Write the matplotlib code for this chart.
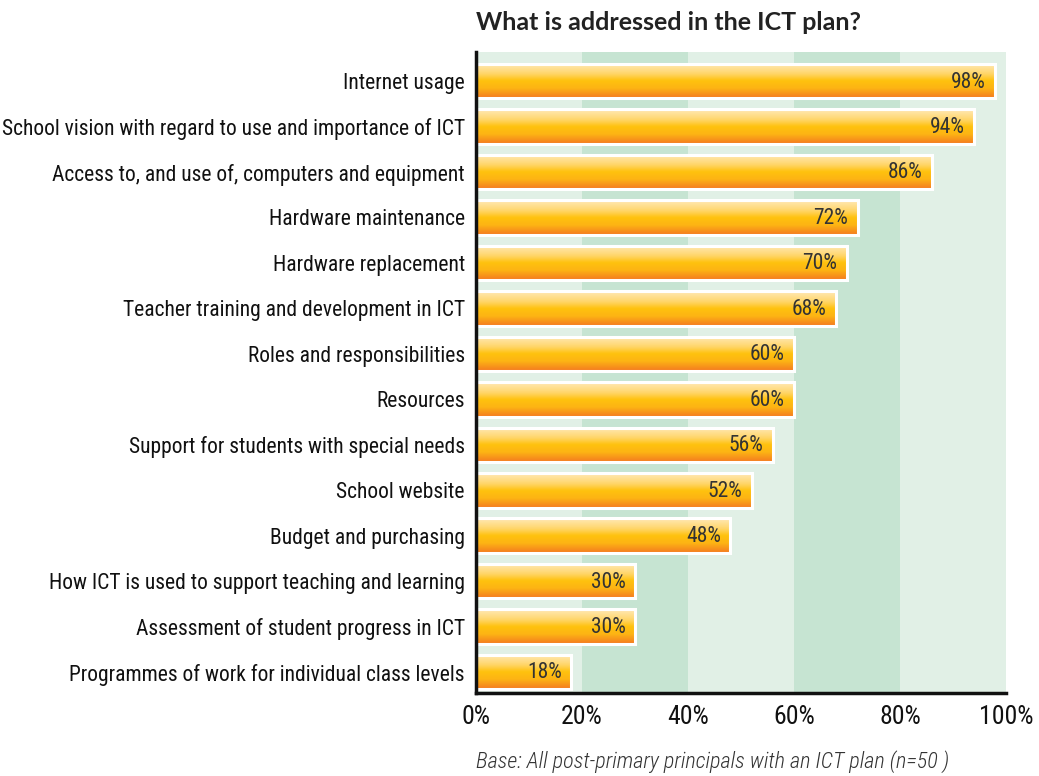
import numpy as np
import matplotlib
matplotlib.use("Agg")
import matplotlib.pyplot as plt
from matplotlib.colors import LinearSegmentedColormap

categories = [
    "Internet usage",
    "School vision with regard to use and importance of ICT",
    "Access to, and use of, computers and equipment",
    "Hardware maintenance",
    "Hardware replacement",
    "Teacher training and development in ICT",
    "Roles and responsibilities",
    "Resources",
    "Support for students with special needs",
    "School website",
    "Budget and purchasing",
    "How ICT is used to support teaching and learning",
    "Assessment of student progress in ICT",
    "Programmes of work for individual class levels",
]
values = [98, 94, 86, 72, 70, 68, 60, 60, 56, 52, 48, 30, 30, 18]
xticks = [0, 20, 40, 60, 80, 100]
xticklabels = ["0%", "20%", "40%", "60%", "80%", "100%"]
title = "What is addressed in the ICT plan?"
footnote = "Base: All post-primary principals with an ICT plan (n=50 )"

narrow = ["Roboto Condensed", "Open Sans Condensed", "Liberation Sans Narrow",
          "Archivo Narrow", "PT Sans Narrow", "DejaVu Sans"]
title_font = ["Lato", "DejaVu Sans"]

fig = plt.figure(figsize=(10.39, 7.76), dpi=100)
ax = fig.add_axes([476/1039, 1-693/776, 530/1039, (693-52)/776])

n = len(categories)
ax.set_xlim(0, 100)
ax.set_ylim(n - 1 + 0.46, -0.64)

# background stripes
for i, x0 in enumerate(range(0, 100, 20)):
    ax.axvspan(x0, x0 + 20, color="#e1f0e6" if i % 2 == 0 else "#c6e4d2", zorder=0, lw=0)

cmap = LinearSegmentedColormap.from_list(
    "barg", [(0.0, "#ffe9b8"), (0.3, "#ffd66a"), (0.5, "#ffc20e"), (0.72, "#fdb414"), (1.0, "#f47b20")])
grad = np.linspace(0, 1, 64).reshape(-1, 1)
h = 0.76
for i, v in enumerate(values):
    rect = plt.Rectangle((0, i - h/2), v, h, facecolor="none", edgecolor="white", lw=2.2, zorder=3)
    ax.add_patch(rect)
    im = ax.imshow(grad, cmap=cmap, aspect="auto", extent=(0, v, i + h/2, i - h/2),
                   origin="upper", zorder=2, interpolation="bilinear")
    im.set_clip_path(rect)
    ax.text(v - 1.8, i + 0.02, f"{v}%", ha="right", va="center", fontsize=15.5,
            color="#333333", family=narrow, zorder=4)

ax.set_yticks(range(n))
ax.set_yticklabels(categories, fontsize=15.5, family=narrow, color="#111111")
ax.set_xticks(xticks)
ax.set_xticklabels(xticklabels, fontsize=18.5, family=narrow, color="#111111")
ax.tick_params(length=0, pad=8)
ax.tick_params(axis="x", pad=9)
for s in ["top", "right"]:
    ax.spines[s].set_visible(False)
for s in ["left", "bottom"]:
    ax.spines[s].set_linewidth(2.5)
    ax.spines[s].set_color("#111111")
    ax.spines[s].set_zorder(5)

fig.text(476/1039, 1-22/776, title, fontsize=18, fontweight="bold", family=title_font,
         color="#222222", va="center", ha="left")
fig.text(476/1039, 1-762/776, footnote, fontsize=16, style="italic", family=narrow,
         fontweight="light", color="#333333", va="center", ha="left")

fig.savefig("out.png", dpi=100)
